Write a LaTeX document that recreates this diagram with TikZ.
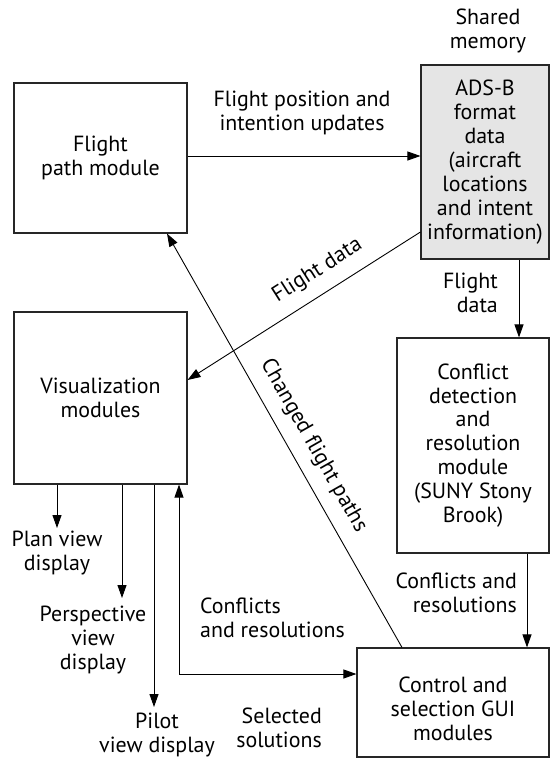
\documentclass[tikz,border=0pt]{standalone}
\usepackage{fontspec}
\setmainfont{PT Sans}
\usetikzlibrary{arrows.meta}
\begin{document}
\begin{tikzpicture}[x=1bp,y=-1bp,
  font=\fontsize{22}{24}\selectfont,
  box/.style={draw=black!85, line width=1.1bp, align=center, inner sep=0pt},
  lbl/.style={align=center, inner sep=0pt},
  arr/.style={-{Triangle[length=13bp,width=9bp]}, line width=0.9bp},
  darr/.style={{Triangle[length=13bp,width=9bp]}-{Triangle[length=13bp,width=9bp]}, line width=0.9bp}]
\useasboundingbox (0,0) rectangle (553,760);

% boxes
\node[box, minimum width=173bp, minimum height=150bp] (fp) at (100.5,158) {Flight\\path module};
\node[box, fill=black!10, minimum width=128bp, minimum height=194bp] (ads) at (485,162) {ADS-B\\format\\data\\(aircraft\\locations\\and intent\\information)};
\node[box, minimum width=152bp, minimum height=215bp] (conf) at (473,445.5) {Conflict\\detection\\and\\resolution\\module\\(SUNY Stony\\Brook)};
\node[box, minimum width=173bp, minimum height=172bp] (vis) at (100.5,398) {Visualization\\modules};
\node[box, minimum width=192bp, minimum height=109bp] (ctrl) at (453,702.5) {};
\node[lbl] (ctrltxt) at (453,709) {Control and\\selection GUI\\modules};

% labels
\node[lbl] (shared) at (488,31) {Shared\\memory};
\node[lbl] (fpos) at (302,113) {Flight position and\\intention updates};
\node[lbl, anchor=east, align=right] (fdata) at (498,293) {Flight\\data};
\node[lbl, anchor=east, align=right] (cr1) at (517,593) {Conflicts and\\resolutions};
\node[lbl] (plan) at (57,553) {Plan view\\display};
\node[lbl] (persp) at (93,640) {Perspective\\view\\display};
\node[lbl] (pilot) at (157,735) {Pilot\\view display};
\node[lbl, anchor=west, align=left] (cr2) at (200,618) {Conflicts\\and resolutions};
\node[lbl, anchor=east, align=right] (sel) at (322,728) {Selected\\solutions};

% helper coordinates
\coordinate (h156) at (0,156);
\coordinate (h232) at (0,232);
\coordinate (h380) at (0,380);
\coordinate (v519) at (519,0);
\coordinate (v527) at (527,0);
\coordinate (v402) at (402,0);
\coordinate (v167) at (167,0);
\coordinate (v179) at (179,0);
\coordinate (h674) at (0,674);
\coordinate (planEnd) at (57,528);
\coordinate (perspEnd) at (122,598);
\coordinate (pilotEnd) at (154,707);

% connectors
\draw[arr] (fp.east |- h156) -- (ads.west |- h156);
\draw[arr] (ads.west |- h232) -- node[sloped, pos=0.39, above=12bp, inner sep=0pt] {Flight data} (vis.east |- h380);
\draw[arr] (ads.south -| v519) -- (conf.north -| v519);
\draw[arr] (conf.south -| v527) -- (ctrl.north -| v527);
\draw[arr] (ctrl.north -| v402) -- node[sloped, pos=0.46, above=12bp, inner sep=0pt] {Changed flight paths} (fp.south -| v167);
\draw[arr] (vis.south -| planEnd) -- (planEnd);
\draw[arr] (vis.south -| perspEnd) -- (perspEnd);
\draw[arr] (vis.south -| pilotEnd) -- (pilotEnd);
\draw[darr] (vis.south -| v179) |- (ctrl.west |- h674);
\end{tikzpicture}
\end{document}
